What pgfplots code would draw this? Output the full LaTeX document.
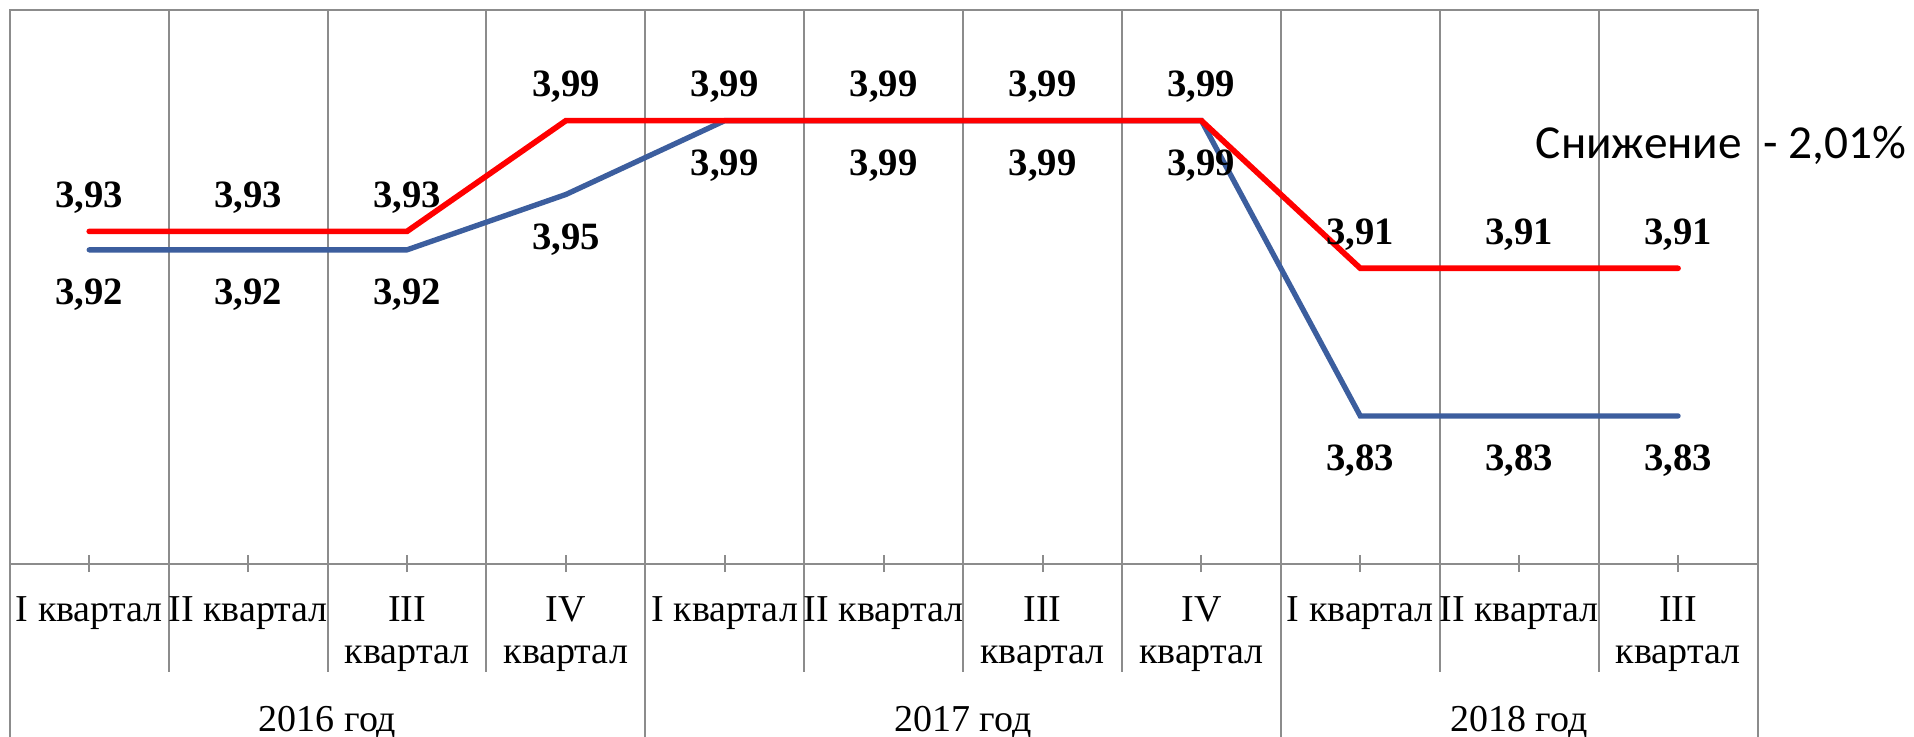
\documentclass[border=0pt]{standalone}
\usepackage{pgfplots}
\pgfplotsset{compat=1.18}
\usepackage{fontspec}
\setmainfont{Liberation Serif}
\newfontfamily\calibri{Carlito}
\definecolor{gridgray}{RGB}{140,140,140}
\definecolor{lineblue}{RGB}{60,94,158}
\definecolor{linered}{RGB}{255,0,0}
\tikzset{catlab/.style={anchor=base, font=\fontsize{11.4}{13}\selectfont, inner sep=0pt}}
\begin{document}
\begin{tikzpicture}
\begin{axis}[
  at={(0,0)}, anchor=south west,
  scale only axis,
  width=524.3pt, height=166.1pt,
  xmin=-0.5, xmax=10.5,
  ymin=3.75, ymax=4.05,
  clip=false,
  axis line style={gridgray, line width=0.6pt},
  xtick={0,...,10},
  xticklabels={},
  xtick pos=bottom,
  tick align=center,
  major tick length=5.1pt,
  every tick/.style={gridgray, line width=0.6pt},
  ytick=\empty,
  /pgf/number format/assume math mode=true,
  nodes near coords={\pgfmathprintnumber[fixed,fixed zerofill,precision=2,use comma,assume math mode=true]{\pgfplotspointmeta}},
]
% category separators
\pgfplotsinvokeforeach{0.5,1.5,2.5,4.5,5.5,6.5,8.5,9.5}{
  \draw[gridgray, line width=0.6pt] ([yshift=-32.4pt]axis cs:#1,3.75) -- (axis cs:#1,4.05);
}
\pgfplotsinvokeforeach{3.5,7.5}{
  \draw[gridgray, line width=0.6pt] ([yshift=-60pt]axis cs:#1,3.75) -- (axis cs:#1,4.05);
}
\pgfplotsinvokeforeach{-0.5,10.5}{
  \draw[gridgray, line width=0.6pt] ([yshift=-60pt]axis cs:#1,3.75) -- (axis cs:#1,3.75);
}
% blue series
\addplot[lineblue, line width=1.6pt, line cap=round, mark=none,
  every node near coord/.style={font=\bfseries\fontsize{11.6}{13}\selectfont, text=black, anchor=base, yshift=-16.4pt}]
  coordinates {(0,3.92) (1,3.92) (2,3.92) (3,3.95) (4,3.99) (5,3.99) (6,3.99) (7,3.99) (8,3.83) (9,3.83) (10,3.83)};
% red series
\addplot[linered, line width=1.7pt, line cap=round, mark=none,
  every node near coord/.style={font=\bfseries\fontsize{11.6}{13}\selectfont, text=black, anchor=base, yshift=7.2pt}]
  coordinates {(0,3.93) (1,3.93) (2,3.93) (3,3.99) (4,3.99) (5,3.99) (6,3.99) (7,3.99) (8,3.91) (9,3.91) (10,3.91)};
% category labels
\node[catlab] at ([yshift=-17.4pt]axis cs:0,3.75) {I квартал};
\node[catlab] at ([yshift=-17.4pt]axis cs:1,3.75) {II квартал};
\node[catlab] at ([yshift=-17.4pt]axis cs:2,3.75) {III};
\node[catlab] at ([yshift=-30.1pt]axis cs:2,3.75) {квартал};
\node[catlab] at ([yshift=-17.4pt]axis cs:3,3.75) {IV};
\node[catlab] at ([yshift=-30.1pt]axis cs:3,3.75) {квартал};
\node[catlab] at ([yshift=-17.4pt]axis cs:4,3.75) {I квартал};
\node[catlab] at ([yshift=-17.4pt]axis cs:5,3.75) {II квартал};
\node[catlab] at ([yshift=-17.4pt]axis cs:6,3.75) {III};
\node[catlab] at ([yshift=-30.1pt]axis cs:6,3.75) {квартал};
\node[catlab] at ([yshift=-17.4pt]axis cs:7,3.75) {IV};
\node[catlab] at ([yshift=-30.1pt]axis cs:7,3.75) {квартал};
\node[catlab] at ([yshift=-17.4pt]axis cs:8,3.75) {I квартал};
\node[catlab] at ([yshift=-17.4pt]axis cs:9,3.75) {II квартал};
\node[catlab] at ([yshift=-17.4pt]axis cs:10,3.75) {III};
\node[catlab] at ([yshift=-30.1pt]axis cs:10,3.75) {квартал};
% year labels
\node[catlab] at ([yshift=-50.4pt]axis cs:1.5,3.75) {2016 год};
\node[catlab] at ([yshift=-50.4pt]axis cs:5.5,3.75) {2017 год};
\node[catlab] at ([yshift=-50.4pt]axis cs:9,3.75) {2018 год};
\end{axis}
\node[anchor=base east, inner sep=0pt, font=\calibri\fontsize{14.2}{17}\selectfont] at (569.1pt,121.6pt) {Снижение\ \ - 2,01\%};
\pgfresetboundingbox
\useasboundingbox (-2.94pt,-52.02pt) rectangle (571.26pt,169.08pt);
\end{tikzpicture}
\end{document}
